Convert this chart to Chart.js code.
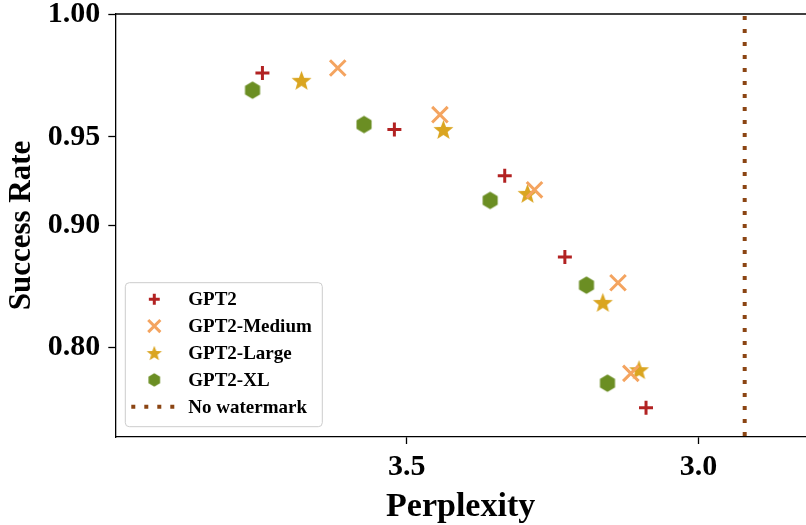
<!DOCTYPE html>
<html>
<head>
<meta charset="utf-8">
<script src="https://cdn.jsdelivr.net/npm/chart.js@4.4.1/dist/chart.umd.min.js"></script>
<style>
  html, body { margin: 0; padding: 0; background: #fff; overflow: hidden; }
  #wrap { width: 806px; height: 525px; }
</style>
</head>
<body>
<div id="wrap"><canvas id="chart" width="806" height="525"></canvas></div>
<script>
// perplexity (x) and success rate (y)
const gpt2Ppl = [3.747, 3.521, 3.332, 3.229, 3.090];
const gpt2Rate = [0.976, 0.953, 0.928, 0.874, 0.751];
const mediumPpl = [3.618, 3.443, 3.281, 3.138, 3.116];
const mediumRate = [0.978, 0.959, 0.920, 0.853, 0.779];
const largePpl = [3.680, 3.437, 3.293, 3.164, 3.102];
const largeRate = [0.973, 0.953, 0.918, 0.837, 0.782];
const xlPpl = [3.764, 3.573, 3.357, 3.192, 3.156];
const xlRate = [0.969, 0.955, 0.914, 0.851, 0.771];
const noWatermarkPpl = 2.921;

const xTicks = [3.5, 3.0];
const yTicks = [0.80, 0.90, 0.95, 1.00];

// the y axis is not linear in the original: each tick sits at a fixed height
// (px above the x axis), values in between are placed piecewise-linearly
const Y_TICK_POS = [89.3, 211.7, 300, 422.7];
const Y_MIN = 0;
const Y_MAX = 422.7;

function warpY(v) {
  let i = 0;
  for (let j = 0; j < yTicks.length - 1; j++) {
    if (v >= yTicks[j]) i = j;
  }
  const t = (v - yTicks[i]) / (yTicks[i + 1] - yTicks[i]);
  return Y_TICK_POS[i] + t * (Y_TICK_POS[i + 1] - Y_TICK_POS[i]);
}

const FONT = "'Liberation Serif', 'Times New Roman', serif";

// filled star / hexagon markers (chart.js has no filled versions)
function makeMarker(shape, r, color) {
  const size = Math.ceil(2 * r + 2);
  const c = document.createElement('canvas');
  c.width = size;
  c.height = size;
  const g = c.getContext('2d');
  g.fillStyle = color;
  g.beginPath();
  const n = shape === 'star' ? 10 : 6;
  for (let k = 0; k < n; k++) {
    const a = -Math.PI / 2 + k * 2 * Math.PI / n;
    const rr = shape === 'star' && k % 2 ? r * 0.42 : r;
    g.lineTo(size / 2 + rr * Math.cos(a), size / 2 + rr * Math.sin(a) + (shape === 'star' ? r * 0.1 : 0));
  }
  g.closePath();
  g.fill();
  return c;
}

const series = [
  { label: 'GPT2', ppl: gpt2Ppl, rate: gpt2Rate, color: '#b22222', style: 'cross', radius: 7, width: 3 },
  { label: 'GPT2-Medium', ppl: mediumPpl, rate: mediumRate, color: '#f4a460', style: 'crossRot', radius: 11, width: 3 },
  { label: 'GPT2-Large', ppl: largePpl, rate: largeRate, color: '#daa520', style: makeMarker('star', 10.5, '#daa520'),
    legendStyle: makeMarker('star', 8, '#daa520'), radius: 10, width: 0 },
  { label: 'GPT2-XL', ppl: xlPpl, rate: xlRate, color: '#6b8e23', style: makeMarker('hex', 8.7, '#6b8e23'),
    legendStyle: makeMarker('hex', 6.7, '#6b8e23'), radius: 8.7, width: 0 }
];

const datasets = series.map(s => ({
  type: 'scatter',
  label: s.label,
  data: s.ppl.map((p, i) => ({ x: p, y: warpY(s.rate[i]) })),
  pointStyle: s.style,
  pointRadius: s.radius,
  borderColor: s.color,
  backgroundColor: s.color,
  pointBorderWidth: s.width
}));

datasets.push({
  type: 'line',
  label: 'No watermark',
  data: [{ x: noWatermarkPpl, y: Y_MAX }, { x: noWatermarkPpl, y: Y_MIN }],
  borderColor: '#8b4513',
  borderWidth: 4,
  borderDash: [4, 9],
  borderDashOffset: -2,
  pointRadius: 0
});

// top spine
const frame = {
  id: 'frame',
  afterDraw(chart) {
    const { ctx, chartArea } = chart;
    ctx.save();
    ctx.strokeStyle = '#000';
    ctx.lineWidth = 1.3;
    ctx.beginPath();
    ctx.moveTo(chartArea.left, chartArea.top);
    ctx.lineTo(chartArea.right, chartArea.top);
    ctx.stroke();
    ctx.restore();
  }
};

// matplotlib-like legend inside the axes, lower left
const legendBox = {
  id: 'legendBox',
  afterDraw(chart) {
    const { ctx, chartArea } = chart;
    const x0 = chartArea.left + 10;
    const y0 = chartArea.bottom - 154.3;
    const w = 197;
    const h = 144;
    ctx.save();
    ctx.beginPath();
    ctx.roundRect(x0, y0, w, h, 4);
    ctx.fillStyle = 'rgba(255,255,255,0.8)';
    ctx.fill();
    ctx.strokeStyle = '#cccccc';
    ctx.lineWidth = 1;
    ctx.stroke();

    const step = 26.9;
    const mx = x0 + 29;
    const tx = x0 + 63;
    ctx.font = 'bold 19px ' + FONT;
    ctx.textBaseline = 'middle';
    ctx.textAlign = 'left';
    series.forEach((s, i) => {
      const y = y0 + 16.5 + i * step;
      ctx.strokeStyle = s.color;
      ctx.fillStyle = s.color;
      ctx.lineWidth = s.width || 1;
      Chart.helpers.drawPoint(ctx, {
        pointStyle: s.legendStyle || s.style,
        radius: s.radius * 0.78,
        borderWidth: s.width || 1
      }, mx, y);
      ctx.fillStyle = '#000';
      ctx.fillText(s.label, tx, y + 1);
    });
    const ly = y0 + 16.5 + 4 * step;
    ctx.strokeStyle = '#8b4513';
    ctx.lineWidth = 4;
    ctx.setLineDash([4, 9]);
    ctx.beginPath();
    ctx.moveTo(x0 + 6, ly);
    ctx.lineTo(x0 + 50, ly);
    ctx.stroke();
    ctx.setLineDash([]);
    ctx.fillStyle = '#000';
    ctx.fillText('No watermark', tx, ly + 1);
    ctx.restore();
  }
};

new Chart(document.getElementById('chart'), {
  type: 'scatter',
  data: { datasets },
  options: {
    responsive: false,
    animation: false,
    events: [],
    layout: { autoPadding: false, padding: { top: 14, left: 0, right: 0, bottom: 0 } },
    plugins: { legend: { display: false }, tooltip: { enabled: false } },
    scales: {
      x: {
        type: 'linear',
        reverse: true,
        min: 2.816,
        max: 3.999,
        afterBuildTicks: s => { s.ticks = xTicks.map(v => ({ value: v })); },
        afterFit: s => { s.height = 88; s.paddingLeft = 0; s.paddingRight = 0; },
        ticks: {
          autoSkip: false,
          color: '#000',
          padding: 5,
          font: { family: FONT, size: 30, weight: 'bold' },
          callback: v => v.toFixed(1)
        },
        grid: { drawOnChartArea: false, tickLength: 7, tickColor: '#000', tickWidth: 1.3 },
        border: { color: '#000', width: 1.3 },
        title: {
          display: true,
          text: 'Perplexity',
          color: '#000',
          font: { family: FONT, size: 34, weight: 'bold', lineHeight: 1 },
          padding: { top: 0, bottom: 1 }
        }
      },
      y: {
        type: 'linear',
        min: Y_MIN,
        max: Y_MAX,
        afterBuildTicks: s => { s.ticks = Y_TICK_POS.map(v => ({ value: v })); },
        afterFit: s => { s.width = 115.3; s.paddingTop = 0; s.paddingBottom = 0; },
        ticks: {
          autoSkip: false,
          color: '#000',
          padding: 8,
          font: { family: FONT, size: 30, weight: 'bold' },
          callback: (v, i) => yTicks[i].toFixed(2)
        },
        grid: { drawOnChartArea: false, tickLength: 7, tickColor: '#000', tickWidth: 1.3 },
        border: { color: '#000', width: 1.3 },
        title: {
          display: true,
          text: 'Success Rate',
          color: '#000',
          font: { family: FONT, size: 31, weight: 'bold' },
          padding: { top: 3, bottom: 0 }
        }
      }
    }
  },
  plugins: [frame, legendBox]
});
</script>
</body>
</html>
